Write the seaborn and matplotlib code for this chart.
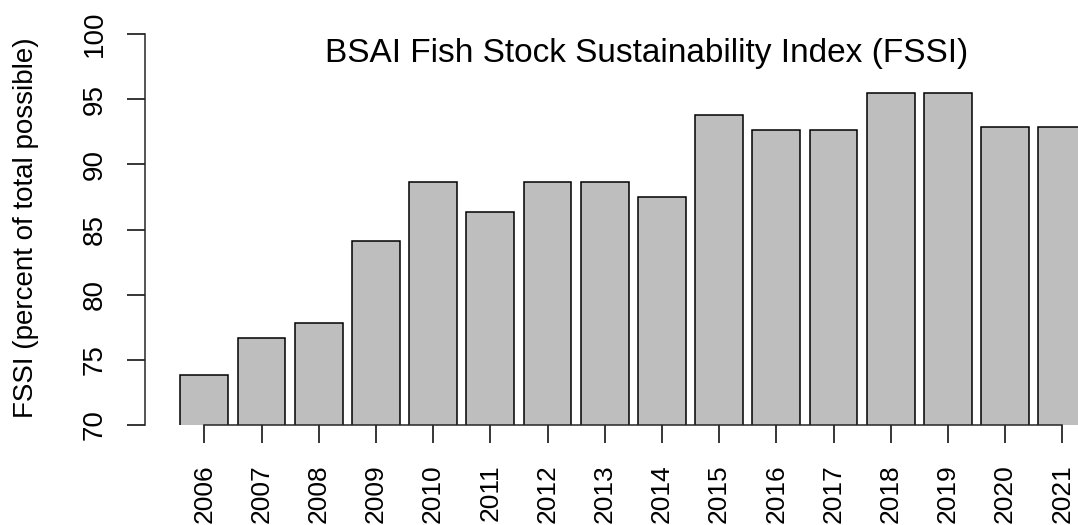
import numpy as np
import pandas as pd
import seaborn as sns
import matplotlib
matplotlib.use("Agg")
import matplotlib.pyplot as plt

# datos
anios = ["2006", "2007", "2008", "2009", "2010", "2011", "2012", "2013",
         "2014", "2015", "2016", "2017", "2018", "2019", "2020", "2021"]
fssi = [73.86, 76.70, 77.84, 84.09, 88.64, 86.36, 88.64, 88.64,
        87.50, 93.75, 92.61, 92.61, 95.45, 95.45, 92.86, 92.86]
y_ticks = [70, 75, 80, 85, 90, 95, 100]

datos = pd.DataFrame({"Anio": anios, "FSSI": fssi})

sns.set_style("ticks")
plt.rcParams["font.family"] = ["Liberation Sans", "DejaVu Sans"]
plt.rcParams["text.color"] = "black"

W, H = 1078, 525
fig = plt.figure(figsize=(W / 100, H / 100), dpi=100)

# region del grafico en pixeles
left, bottom, top = 145, 425, 34
ax = fig.add_axes([left / W, (H - bottom) / H, (W - left) / W, (bottom - top) / H])

sns.barplot(data=datos, x="Anio", y="FSSI", color="#BEBEBE", edgecolor="black",
            linewidth=1.1, width=1 / 1.2, saturation=1, ax=ax)

paso = 57.2
x0 = 204.3
ax.set_xlim((left - x0) / paso, (W - x0) / paso)
ax.set_ylim(70, 100)

ax.set_yticks(y_ticks)
ax.set_yticklabels([str(v) for v in y_ticks], fontsize=20)
for lab in ax.get_yticklabels():
    lab.set_rotation(90)
    lab.set_rotation_mode("anchor")
    lab.set_ha("center")
    lab.set_va("baseline")
ax.set_xticks(range(len(anios)))
ax.set_xticklabels(anios, rotation=90, fontsize=19)

for s in ["top", "right"]:
    ax.spines[s].set_visible(False)
ax.spines["bottom"].set_bounds(0, len(anios) - 1)
ax.spines["left"].set_bounds(70, 100)
ax.spines["left"].set_linewidth(1.1)
ax.spines["bottom"].set_linewidth(1.1)
ax.tick_params(axis="y", length=13, width=1.1, pad=18, colors="black")
ax.tick_params(axis="x", length=12.8, width=1.1, pad=15.5, colors="black")
ax.set_xlabel("")
ax.set_ylabel("")

fig.text(33 / W, 1 - 228 / H, "FSSI (percent of total possible)", rotation=90,
         rotation_mode="anchor", ha="center", va="baseline", fontsize=20)
fig.text(647 / W, 1 - 61.7 / H, "BSAI Fish Stock Sustainability Index (FSSI)",
         ha="center", va="baseline", fontsize=24)

fig.savefig("out.png", dpi=100)
